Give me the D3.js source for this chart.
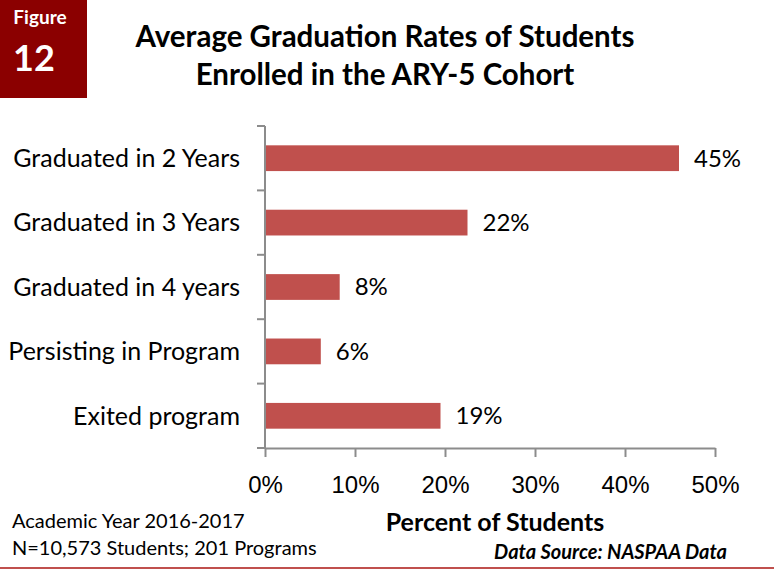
<!DOCTYPE html>
<html>
<head>
<meta charset="utf-8">
<script src="https://cdn.jsdelivr.net/npm/d3@7"></script>
<style>
  body { margin: 0; background: #fff; }
  svg { display: block; font-family: Lato, "Open Sans", sans-serif; }
  .axis path, .axis line { stroke: #8c8c8c; stroke-width: 2; }
  .axis text { font-size: 24px; fill: #000; }
</style>
</head>
<body>
<div id="chart"></div>
<script>
// data
var categories = ["Graduated in 2 Years", "Graduated in 3 Years", "Graduated in 4 years", "Persisting in Program", "Exited program"];
// bar lengths as drawn in the picture
var values = [46, 22.5, 8.3, 6.2, 19.5];
// labels printed next to the bars
var valueLabels = ["45%", "22%", "8%", "6%", "19%"];
var xTicks = [0, 10, 20, 30, 40, 50];

var width = 774, height = 571;

var svg = d3.select("#chart").append("svg")
  .attr("width", width)
  .attr("height", height);

// figure badge
svg.append("rect")
  .attr("x", 0).attr("y", 0)
  .attr("width", 87).attr("height", 98)
  .attr("fill", "#8b0000");
svg.append("text")
  .attr("x", 40).attr("y", 24)
  .attr("text-anchor", "middle")
  .attr("fill", "#fff")
  .attr("font-weight", "bold")
  .attr("font-size", 19)
  .text("Figure");
svg.append("text")
  .attr("x", 34).attr("y", 71)
  .attr("text-anchor", "middle")
  .attr("fill", "#fff")
  .attr("font-weight", "bold")
  .attr("font-size", 36)
  .text("12");

// title
var titleLines = ["Average Graduation Rates of Students", "Enrolled in the ARY-5 Cohort"];
svg.selectAll(".title")
  .data(titleLines)
  .enter().append("text")
  .attr("class", "title")
  .attr("x", 385)
  .attr("y", (d, i) => 47 + i * 38)
  .attr("text-anchor", "middle")
  .attr("font-weight", "bold")
  .attr("font-size", 29.5)
  .text(d => d);

var x = d3.scaleLinear().domain([0, 50]).range([265, 715]);
var y = d3.scaleBand().domain(categories).range([126, 448]).paddingInner(0.6).paddingOuter(0.3);
var yTickScale = d3.scaleBand().domain(categories).range([126, 448]);

// bars
svg.selectAll(".bar")
  .data(categories)
  .enter().append("rect")
  .attr("class", "bar")
  .attr("x", x(0))
  .attr("y", d => y(d))
  .attr("width", (d, i) => x(values[i]) - x(0))
  .attr("height", y.bandwidth())
  .attr("fill", "#c0504d");

// y axis
svg.append("line")
  .attr("x1", x(0)).attr("x2", x(0))
  .attr("y1", 126).attr("y2", 448)
  .attr("stroke", "#8c8c8c").attr("stroke-width", 2);
svg.selectAll(".ytick")
  .data(categories.concat(["end"]))
  .enter().append("line")
  .attr("class", "ytick")
  .attr("x1", x(0) - 8).attr("x2", x(0))
  .attr("y1", (d, i) => i < categories.length ? yTickScale(d) : 448)
  .attr("y2", (d, i) => i < categories.length ? yTickScale(d) : 448)
  .attr("stroke", "#8c8c8c").attr("stroke-width", 2);

svg.selectAll(".ylabel")
  .data(categories)
  .enter().append("text")
  .attr("class", "ylabel")
  .attr("x", 240)
  .attr("y", d => yTickScale(d) + yTickScale.bandwidth() / 2)
  .attr("dy", "0.35em")
  .attr("text-anchor", "end")
  .attr("font-size", 25)
  .text(d => d);

// x axis
var xAxis = d3.axisBottom(x)
  .tickValues(xTicks)
  .tickFormat(d => d + "%")
  .tickSize(9)
  .tickSizeOuter(0)
  .tickPadding(19);
svg.append("g")
  .attr("class", "axis")
  .attr("transform", "translate(0,448)")
  .call(xAxis);

// value labels
svg.selectAll(".vlabel")
  .data(categories)
  .enter().append("text")
  .attr("class", "vlabel")
  .attr("x", (d, i) => x(values[i]) + 15)
  .attr("y", d => y(d) + y.bandwidth() / 2)
  .attr("dy", "0.35em")
  .attr("font-size", 24)
  .text((d, i) => valueLabels[i]);

// axis title
svg.append("text")
  .attr("x", 495).attr("y", 531)
  .attr("text-anchor", "middle")
  .attr("font-weight", "bold")
  .attr("font-size", 25)
  .text("Percent of Students");

// notes
svg.append("text")
  .attr("x", 12).attr("y", 528)
  .attr("font-size", 20)
  .text("Academic Year 2016-2017");
svg.append("text")
  .attr("x", 12).attr("y", 555)
  .attr("font-size", 20)
  .text("N=10,573 Students; 201 Programs");
svg.append("text")
  .attr("x", 727).attr("y", 559)
  .attr("text-anchor", "end")
  .attr("font-weight", "bold")
  .attr("font-style", "italic")
  .attr("font-size", 20)
  .text("Data Source: NASPAA Data");

// bottom rule
svg.append("line")
  .attr("x1", 0).attr("x2", width)
  .attr("y1", 568).attr("y2", 568)
  .attr("stroke", "#c0504d").attr("stroke-width", 2);
</script>
</body>
</html>
